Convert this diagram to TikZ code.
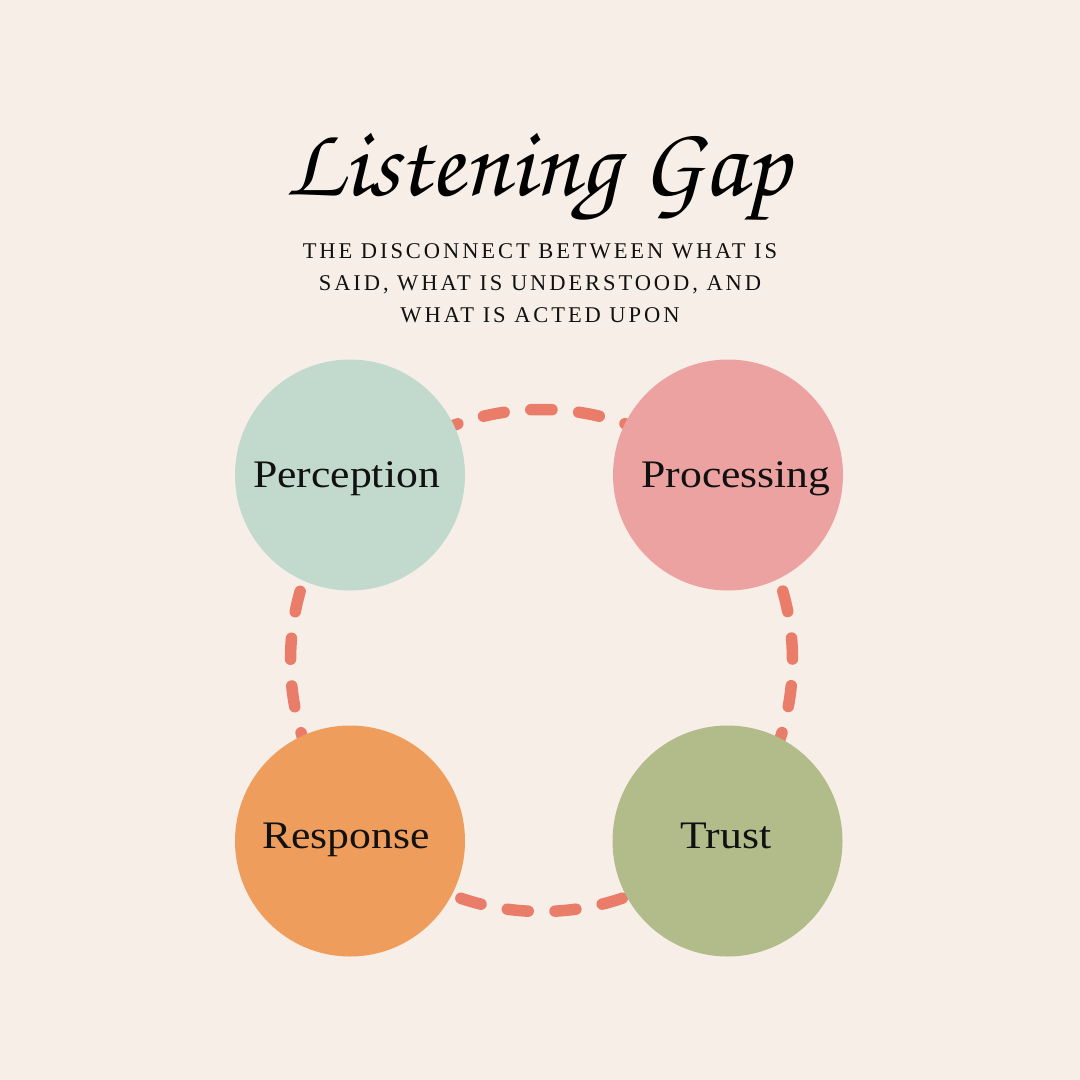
\documentclass[tikz,border=0pt]{standalone}
\usepackage{fontspec}
\usetikzlibrary{shapes.geometric}
\setmainfont{Liberation Serif}
\newfontfamily\titlefont{texgyrechorus-mediumitalic.otf}
\newfontfamily\subfont[LetterSpace=13]{Liberation Serif}
\newfontfamily\labelfont[FakeStretch=1.12]{Liberation Serif}
\definecolor{bgcol}{HTML}{F7EFE7}
\definecolor{perccol}{HTML}{C2D9CE}
\definecolor{proccol}{HTML}{EBA2A1}
\definecolor{respcol}{HTML}{EF9D5C}
\definecolor{trustcol}{HTML}{B2BB8A}
\definecolor{dashcol}{HTML}{E97D6A}
\definecolor{inkcol}{HTML}{111111}
\tikzset{
  blob/.style={ellipse, draw=none, minimum width=230pt, minimum height=231pt, inner sep=0pt},
  blobtext/.style={anchor=base, inner sep=0pt, text=inkcol, font=\labelfont\fontsize{39}{39}\selectfont},
  subline/.style={anchor=base, inner sep=0pt, text=inkcol, font=\subfont\fontsize{22.5}{22.5}\selectfont},
  ring/.style={draw=dashcol, line width=11.5pt, line cap=round, dash pattern=on 21pt off 26.79pt, dash phase=10.5pt}
}
\begin{document}
\begin{tikzpicture}[x=1pt, y=-1pt]
\fill[bgcol] (0,0) rectangle (1080,1080);
\useasboundingbox (0,0) rectangle (1080,1080);
% title
\node[anchor=base, inner sep=0pt, text=black, font=\titlefont\fontsize{100}{100}\selectfont] (title) at (537,195) {Listening Gap};
\node[subline] (sub1) at (540,258) {THE DISCONNECT BETWEEN WHAT IS};
\node[subline] (sub2) at (540,290) {SAID, WHAT IS UNDERSTOOD, AND};
\node[subline] (sub3) at (540,322) {WHAT IS ACTED UPON};
% ring behind the circles
\coordinate (ctr) at (541.5,660.5);
\draw[ring] (ctr) ++(0,-251) arc[start angle=270, end angle=630, radius=251];
% circles
\node[blob, fill=perccol] (perc) at (350,475) {};
\node[blob, fill=proccol] (proc) at (728,475) {};
\node[blob, fill=respcol] (resp) at (350,841) {};
\node[blob, fill=trustcol] (trust) at (727.5,841) {};
\node[blobtext] (perct) at (346.5,487) {Perception};
\node[blobtext] (proct) at (736,487) {Processing};
\node[blobtext] (respt) at (346,848) {Response};
\node[blobtext] (trustt) at (726,848) {Trust};
\end{tikzpicture}
\end{document}
